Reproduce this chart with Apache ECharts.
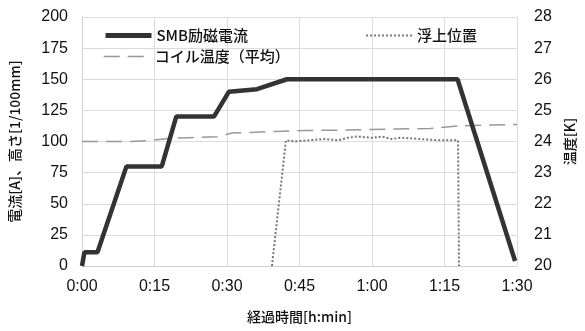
<!DOCTYPE html>
<html><head><meta charset="utf-8">
<script src="https://cdn.jsdelivr.net/npm/echarts@6/dist/echarts.min.js"></script>
<style>html,body{margin:0;padding:0;background:#fff}#c{width:585px;height:331px}</style>
</head><body><div id="c"></div>
<script>
// time in minutes
const xTicks = ['0:00','0:15','0:30','0:45','1:00','1:15','1:30'];
const currentT = [0, 0.5, 3.2, 9.2, 16.5, 19.5, 27.3, 30.4, 36.2, 42.4, 77.7, 89.6];
const currentV = [0, 11, 11, 80, 80, 120, 120, 140, 142, 150, 150, 4];
const liftT = [39.3, 42.2, 44, 47, 50, 53, 55, 57, 60, 62, 64, 66, 70, 74, 77.8, 78];
const liftV = [0, 101, 100, 101, 102, 101, 103, 104, 103, 104, 102, 103, 102, 101, 101, 0];
const tempT = [0, 10, 14, 18, 22, 28, 31, 36, 40, 46, 55, 65, 72, 78, 84, 90];
const tempV = [24.0, 24.0, 24.03, 24.1, 24.12, 24.15, 24.27, 24.3, 24.32, 24.35, 24.37, 24.4, 24.42, 24.5, 24.53, 24.55];

const zip = (a, b) => a.map((v, i) => [v, b[i]]);
const font = 'Liberation Sans, Noto Sans CJK JP, sans-serif';
const cjk = 'Noto Sans CJK JP, sans-serif';
const lgText = {fontSize: 15, fontFamily: cjk, color: '#111', fontWeight: 500};
const chart = echarts.init(document.getElementById('c'));
chart.setOption({
  animation: false,
  backgroundColor: '#fff',
  grid: {left: 82, right: 65, top: 17, bottom: 65},
  legend: [
    {left: 98, top: 23, itemWidth: 46, itemHeight: 14, itemGap: 117,
     itemStyle: {opacity: 0},
     textStyle: lgText,
     data: [{name: 'SMB励磁電流', lineStyle: {width: 5}}, {name: '浮上位置', lineStyle: {width: 2}}]},
    {left: 98, top: 44, itemWidth: 46, itemHeight: 14,
     itemStyle: {opacity: 0},
     textStyle: lgText,
     data: [{name: 'コイル温度（平均）', lineStyle: {width: 1.5}}]}
  ],
  xAxis: {
    type: 'value', min: 0, max: 90, interval: 15,
    name: '経過時間[h:min]', nameLocation: 'middle', nameGap: 44,
    nameTextStyle: {fontSize: 14, fontFamily: cjk, color: '#111', fontWeight: 500},
    axisLine: {show: true, lineStyle: {color: '#d0d0d0'}},
    axisTick: {show: false},
    axisLabel: {fontSize: 16, fontFamily: font, color: '#111', margin: 13,
      formatter: v => xTicks[Math.round(v / 15)]},
    splitLine: {show: true, lineStyle: {color: '#dcdcdc'}}
  },
  yAxis: [
    {type: 'value', min: 0, max: 200, interval: 25,
     name: '電流[A]、高さ[1/100mm]', nameLocation: 'middle', nameGap: 60,
     nameTextStyle: {fontSize: 14, fontFamily: cjk, color: '#111', fontWeight: 500},
     axisLine: {show: true, lineStyle: {color: '#d0d0d0'}},
     axisTick: {show: false},
     axisLabel: {fontSize: 16, fontFamily: font, color: '#111', margin: 14},
     splitLine: {show: true, lineStyle: {color: '#dcdcdc'}}},
    {type: 'value', min: 20, max: 28, interval: 1,
     name: '温度[K]', nameLocation: 'middle', nameGap: 46, nameRotate: 90,
     nameTextStyle: {fontSize: 14, fontFamily: cjk, color: '#111', fontWeight: 500},
     axisLine: {show: false}, axisTick: {show: false},
     axisLabel: {fontSize: 16, fontFamily: font, color: '#111', margin: 17},
     splitLine: {show: false}}
  ],
  series: [
    {name: 'SMB励磁電流', type: 'line', data: zip(currentT, currentV), symbol: 'none',
     lineStyle: {color: '#333', width: 4.5}, itemStyle: {color: '#333'}, z: 5},
    {name: '浮上位置', type: 'line', data: zip(liftT, liftV), symbol: 'none',
     lineStyle: {color: '#777', width: 2, type: [2, 2]}, itemStyle: {color: '#777'}, z: 3},
    {name: 'コイル温度（平均）', type: 'line', yAxisIndex: 1, data: zip(tempT, tempV), symbol: 'none',
     lineStyle: {color: '#999', width: 1.5, type: [16, 8]}, itemStyle: {color: '#999'}, z: 4}
  ]
});
</script></body></html>
